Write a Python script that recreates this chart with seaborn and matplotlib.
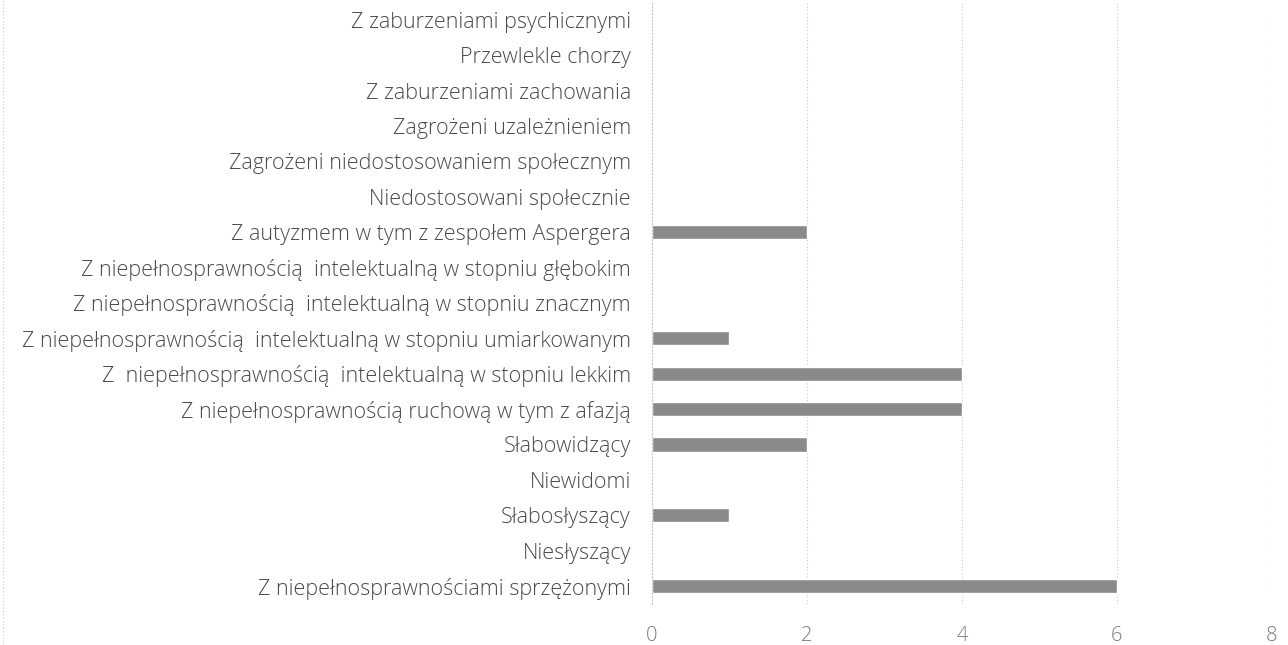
import matplotlib
matplotlib.use("Agg")
import matplotlib.pyplot as plt
from matplotlib.lines import Line2D
import seaborn as sns
import pandas as pd

# kategorie od góry do dołu, tak jak na wykresie
kategorie = [
    "Z zaburzeniami psychicznymi",
    "Przewlekle chorzy",
    "Z zaburzeniami zachowania",
    "Zagrożeni uzależnieniem",
    "Zagrożeni niedostosowaniem społecznym",
    "Niedostosowani społecznie",
    "Z autyzmem w tym z zespołem Aspergera",
    "Z niepełnosprawnością  intelektualną w stopniu głębokim",
    "Z niepełnosprawnością  intelektualną w stopniu znacznym",
    "Z niepełnosprawnością  intelektualną w stopniu umiarkowanym",
    "Z  niepełnosprawnością  intelektualną w stopniu lekkim",
    "Z niepełnosprawnością ruchową w tym z afazją",
    "Słabowidzący",
    "Niewidomi",
    "Słabosłyszący",
    "Niesłyszący",
    "Z niepełnosprawnościami sprzężonymi",
]
liczba = [0, 0, 0, 0, 0, 0, 2, 0, 0, 1, 4, 4, 2, 0, 1, 0, 6]
x_ticks = [0, 2, 4, 6, 8]

df = pd.DataFrame({"kategoria": kategorie, "liczba": liczba})

sns.set_theme(style="white")
plt.rcParams["font.family"] = ["Open Sans", "DejaVu Sans"]

fig = plt.figure(figsize=(12.88, 6.45), dpi=100)
ax = fig.add_axes([0.506, 0.064, 0.4815, 0.9326])

sns.barplot(data=df, y="kategoria", x="liczba", orient="h", color="#8a8a8a",
            width=0.4, saturation=1, ax=ax)

ax.set_xlim(0, 8)
ax.set_ylim(len(kategorie) - 0.5, -0.5)
ax.set_xticks(x_ticks)
ax.set_xticklabels([str(t) for t in x_ticks], fontsize=14.5, color="#7a7a7a",
                   fontweight="light")
ax.tick_params(axis="x", length=0, pad=16)
ax.tick_params(axis="y", length=0, pad=15, labelsize=15.5, labelcolor="#4a4a4a")
for lab in ax.get_yticklabels():
    lab.set_fontweight("light")
ax.set_xlabel("")
ax.set_ylabel("")

ax.grid(axis="x", color="#c8c8c8", linestyle=(0, (1, 2)), linewidth=0.8)
ax.set_axisbelow(True)
for s in ["top", "right", "bottom"]:
    ax.spines[s].set_visible(False)
ax.spines["left"].set_color("#c8c8c8")
ax.spines["left"].set_linestyle((0, (1, 2)))
ax.spines["left"].set_linewidth(0.8)

# ramka obszaru wykresu po lewej
fig.add_artist(Line2D([0.002, 0.002], [0, 1], transform=fig.transFigure,
                      color="#c8c8c8", linestyle=(0, (1, 2)), linewidth=0.8))

fig.savefig("out.png", dpi=100)
